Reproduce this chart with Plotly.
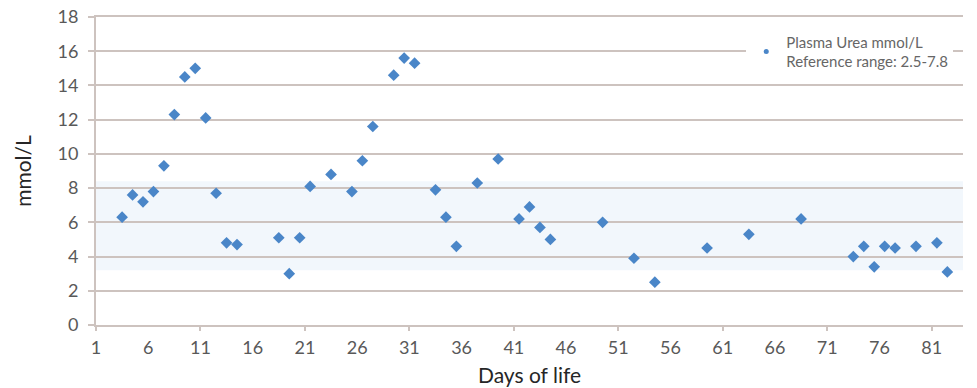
import plotly.graph_objects as go

days = [3.5, 4.5, 5.5, 6.5, 7.5, 8.5, 9.5, 10.5, 11.5, 12.5, 13.5, 14.5,
        18.5, 19.5, 20.5, 21.5, 23.5, 25.5, 26.5, 27.5, 29.5, 30.5, 31.5,
        33.5, 34.5, 35.5, 37.5, 39.5, 41.5, 42.5, 43.5, 44.5, 49.5, 52.5,
        54.5, 59.5, 63.5, 68.5, 73.5, 74.5, 75.5, 76.5, 77.5, 79.5, 81.5, 82.5]
urea = [6.3, 7.6, 7.2, 7.8, 9.3, 12.3, 14.5, 15.0, 12.1, 7.7, 4.8, 4.7,
        5.1, 3.0, 5.1, 8.1, 8.8, 7.8, 9.6, 11.6, 14.6, 15.6, 15.3,
        7.9, 6.3, 4.6, 8.3, 9.7, 6.2, 6.9, 5.7, 5.0, 6.0, 3.9,
        2.5, 4.5, 5.3, 6.2, 4.0, 4.6, 3.4, 4.6, 4.5, 4.6, 4.8, 3.1]

x_ticks = list(range(1, 84, 5))
x_major = list(range(1, 84, 10))
y_ticks = list(range(0, 19, 2))
band_low, band_high = 3.2, 8.4
series_name = "Plasma Urea mmol/L<br>Reference range: 2.5-7.8"

grid = "#cdc3bf"
font = "Lato"
blue = "#4a86c8"

fig = go.Figure()
fig.add_trace(go.Scatter(
    x=days, y=urea, mode="markers", name=series_name, showlegend=False,
    marker=dict(symbol="diamond", size=9, color=blue),
))
# legend entry (smaller symbol as in the reference)
fig.add_trace(go.Scatter(
    x=[None], y=[None], mode="markers", name=series_name,
    marker=dict(symbol="circle", size=5, color=blue),
))
# invisible trace on overlay axis for major tick marks
fig.add_trace(go.Scatter(x=[x_major[0]], y=[0], xaxis="x2", mode="markers",
                         marker=dict(opacity=0), showlegend=False, hoverinfo="skip"))

fig.add_shape(type="rect", xref="paper", yref="y", x0=0, x1=1,
              y0=band_low, y1=band_high, fillcolor="rgba(214,230,245,0.32)",
              line_width=0, layer="below")

fig.update_layout(
    width=977, height=388,
    margin=dict(l=96, r=14, t=17, b=63),
    paper_bgcolor="white", plot_bgcolor="white",
    font=dict(family=font, color="#595959"),
    showlegend=True,
    legend=dict(x=0.75, y=0.972, xanchor="left", yanchor="top",
                bgcolor="white", font=dict(size=15, color="#666666"),
                borderwidth=0, itemwidth=30, tracegroupgap=0),
    xaxis=dict(range=[1, 84], tickvals=x_ticks, ticktext=[str(v) for v in x_ticks],
               showgrid=False, zeroline=False, automargin=False,
               showline=True, mirror=True, linecolor=grid, linewidth=2,
               ticklabelstandoff=5,
               tickfont=dict(size=18, color="#595959"),
               title=dict(text="Days of life", font=dict(size=21, color="#262626"),
                          standoff=12)),
    xaxis2=dict(range=[1, 84], overlaying="x", tickvals=x_major, showticklabels=False,
                ticks="outside", ticklen=5, tickwidth=2, tickcolor=grid,
                showgrid=False, zeroline=False, showline=False, side="bottom",
                automargin=False),
    yaxis=dict(range=[0, 18], tickvals=y_ticks, showgrid=True, gridcolor=grid,
               gridwidth=2, zeroline=False, showline=True, linecolor=grid,
               linewidth=2, ticks="outside", ticklen=6, tickcolor=grid, tickwidth=2,
               automargin=False, ticklabelstandoff=6,
               tickfont=dict(size=18, color="#595959"),
               title=dict(text="mmol/L", font=dict(size=21, color="#262626"),
                          standoff=20)),
)
fig.write_html("out.html", config={"displayModeBar": False},
               post_script="document.body.style.margin='0';document.body.style.overflow='hidden';")
